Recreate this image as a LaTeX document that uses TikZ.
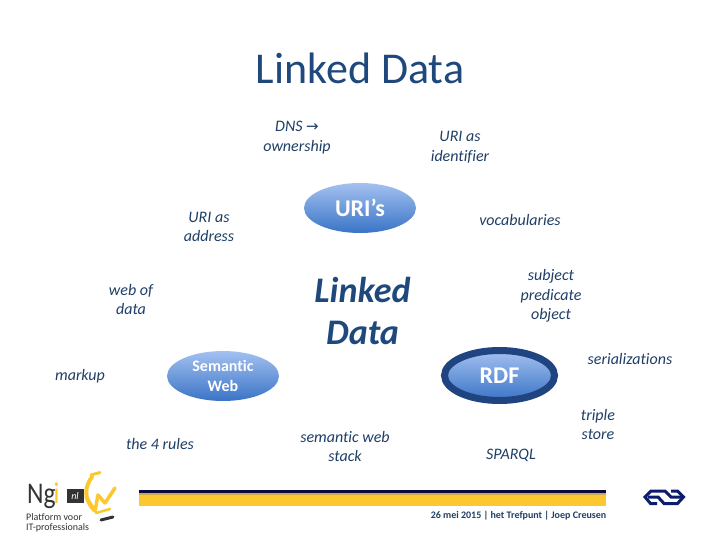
\documentclass[tikz,border=0pt]{standalone}
\usepackage{fontspec}
\setmainfont{Carlito}[Ligatures=NoCommon]
\newfontfamily\symfont{DejaVu Sans}
\usetikzlibrary{shapes.geometric}
\definecolor{inkblue}{HTML}{1F3F66}
\definecolor{titleblue}{HTML}{1F497D}
\definecolor{balltop}{HTML}{A3C1F0}
\definecolor{ballbot}{HTML}{3A74C6}
\definecolor{ringblue}{HTML}{1F4480}
\definecolor{barnavy}{HTML}{0A0A3C}
\definecolor{baryellow}{HTML}{FDC82F}
\definecolor{nsblue}{HTML}{0C1C6E}
\definecolor{logogrey}{HTML}{333333}
\tikzset{
  x=1pt,y=-1pt,
  lbl/.style={font=\fontsize{16}{19.5}\selectfont\itshape,text=inkblue,align=center,inner sep=0pt},
  ball/.style={ellipse,minimum width=112pt,minimum height=50pt,inner sep=0pt,top color=balltop,bottom color=ballbot,text=white,align=center},
  smallball/.style={font=\fontsize{16}{20}\selectfont\bfseries},
  logotext/.style={font=\fontsize{10}{10}\selectfont,text=logogrey,align=left,inner sep=0pt,anchor=west}
}
\begin{document}
\begin{tikzpicture}
\useasboundingbox (0,0) rectangle (720,540);
\fill[white] (0,0) rectangle (720,540);
\node[font=\fontsize{44}{52}\selectfont,text=titleblue,inner sep=0pt] (title) at (360,68) {Linked Data};
\node[lbl] (dns) at (297,137.5) {DNS {\symfont\upshape\fontsize{15}{15}\selectfont →}\\ownership};
\node[lbl] (ident) at (460,147.5) {URI as\\identifier};
\node[ball,font=\fontsize{24}{28}\selectfont\bfseries] (uri) at (360,208) {URI’s};
\node[lbl] (addr) at (209,227) {URI as\\address};
\node[lbl] (voc) at (520,220) {vocabularies};
\node[lbl] (web) at (131,299.5) {web of\\data};
\node[font=\fontsize{36}{43}\selectfont\bfseries\itshape,text=titleblue,align=center,inner sep=0pt] (ld) at (362.5,311) {Linked\\Data};
\node[lbl] (spo) at (551,296) {subject\\predicate\\object};
\node[lbl] (markup) at (80,376.5) {markup};
\node[ball,smallball] (sem) at (223,376) {Semantic\\Web};
\node[ball,minimum width=110pt,draw=ringblue,line width=7pt,font=\fontsize{24}{28}\selectfont\bfseries] (rdf) at (499.5,375.5) {RDF};
\node[lbl] (ser) at (630,359) {serializations};
\node[lbl] (triple) at (598,424.5) {triple\\store};
\node[lbl] (rules) at (160,444) {the 4 rules};
\node[lbl] (stack) at (345,446.5) {semantic web\\stack};
\node[lbl] (sparql) at (511,455) {SPARQL};
% footer bar
\fill[baryellow] (139,492) rectangle (606,506);
\fill[barnavy] (139,490) rectangle (606,493);
\fill[baryellow!60!gray] (139,493) rectangle (606,494.5);
\node[font=\fontsize{10}{12}\selectfont\bfseries,text=inkblue,inner sep=0pt,anchor=east] (foot) at (606.5,515.5) {26 mei 2015 | het Trefpunt | Joep Creusen};
% Ngi logo
\node[font=\fontsize{30}{30}\selectfont,text=logogrey,inner sep=0pt,anchor=base west,xscale=.85] (ngi) at (27,503) {Ng};
\node[font=\fontsize{30}{30}\selectfont,text=baryellow,inner sep=0pt,anchor=base west,xscale=.85] (ngii) at (53.5,503) {i};
\node[logotext] (plat) at (26,523) {Platform voor\\IT-professionals};
\fill[logogrey] (67,489) rectangle (84,503);
\node[font=\fontsize{10}{10}\selectfont\itshape,text=white,inner sep=0pt] (nl) at (75,496) {nl};
\draw[baryellow,line width=4pt,line cap=round] (92,477) .. controls (85,486) and (83,498) .. (94,510);
\draw[baryellow,line width=3pt,line cap=round] (91,475) -- (100,472.5);
\draw[baryellow,line width=3.5pt,line join=round,line cap=round] (86,497) -- (95,511) -- (98,495) -- (105,503) -- (115,488);
\draw[baryellow,line width=2.5pt,line cap=round] (96,513) -- (110,509);
\draw[logogrey,line width=3pt,line cap=round] (101,520) -- (113,517);
% NS logo
\draw[nsblue,line width=3pt,line join=miter] (657,503.5) -- (650.5,503.5) -- (645,497) -- (651,491) -- (665,491) -- (671,497) -- (681,497);
\draw[nsblue,line width=3pt,line join=miter] (671,491) -- (677.5,491) -- (683.5,497) -- (677.5,503.5) -- (664,503.5) -- (658,497) -- (648,497);
\end{tikzpicture}
\end{document}
